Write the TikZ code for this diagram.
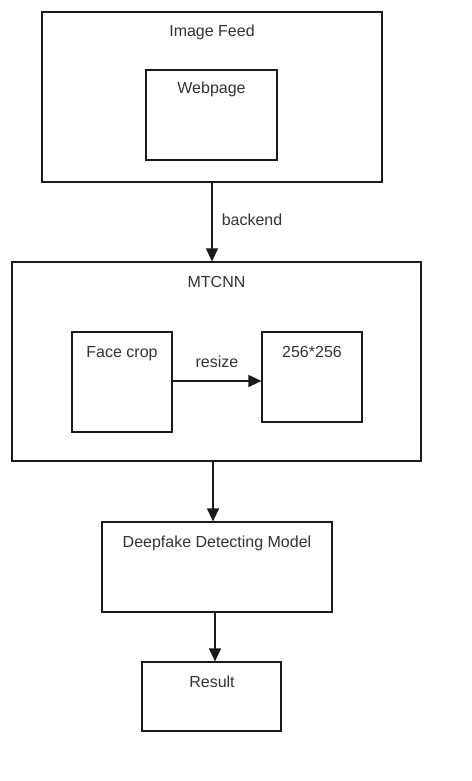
\documentclass[tikz,border=0pt]{standalone}
\usepackage{fontspec}
\setmainfont{Liberation Sans}
\usetikzlibrary{arrows.meta}
\definecolor{txt}{HTML}{333333}
\definecolor{ln}{HTML}{1A1A1A}
\tikzset{
  box/.style={draw=ln, line width=1.2pt, fill=white, inner sep=0pt},
  lbl/.style={anchor=base, text=txt, font=\fontsize{16}{19}\selectfont, inner sep=0pt},
  conn/.style={draw=ln, line width=1.2pt, -{Triangle[length=13pt,width=12pt]}}
}
\begin{document}
\begin{tikzpicture}[x=1pt,y=-1pt]
\useasboundingbox (0,0) rectangle (471,781);
\fill[white] (0,0) rectangle (471,781);
% boxes
\node[box, minimum width=340pt, minimum height=170pt] (feed) at (212,97) {};
\node[box, minimum width=131pt, minimum height=90pt] (web) at (211.5,115) {};
\node[box, minimum width=409pt, minimum height=199pt] (mtcnn) at (216.5,361.5) {};
\node[box, minimum width=100pt, minimum height=100pt] (face) at (122,382) {};
\node[box, minimum width=100pt, minimum height=90pt] (r256) at (312,377) {};
\node[box, minimum width=230pt, minimum height=90pt] (deep) at (217,567) {};
\node[box, minimum width=139pt, minimum height=69pt] (result) at (211.5,696.5) {};
% labels
\node[lbl] (tfeed) at (212,37) {Image Feed};
\node[lbl] (tweb) at (211.5,94) {Webpage};
\node[lbl] (tmtcnn) at (216.5,287) {MTCNN};
\node[lbl] (tface) at (122,357) {Face crop};
\node[lbl] (t256) at (312,357) {256*256};
\node[lbl] (tdeep) at (217,547) {Deepfake Detecting Model};
\node[lbl] (tresult) at (212,687) {Result};
\node[lbl] (tbackend) at (252,225) {backend};
\node[lbl] (tresize) at (217,367) {resize};
% connectors
\draw[conn] (feed.south) -- (feed.south |- mtcnn.north);
\draw[conn] (face.east |- 0,381) -- (r256.west |- 0,381);
\draw[conn] ([xshift=-3.5pt]mtcnn.south) -- ([xshift=-3.5pt]mtcnn.south |- deep.north);
\draw[conn] ([xshift=-2pt]deep.south) -- ([xshift=-2pt]deep.south |- result.north);
\end{tikzpicture}
\end{document}
